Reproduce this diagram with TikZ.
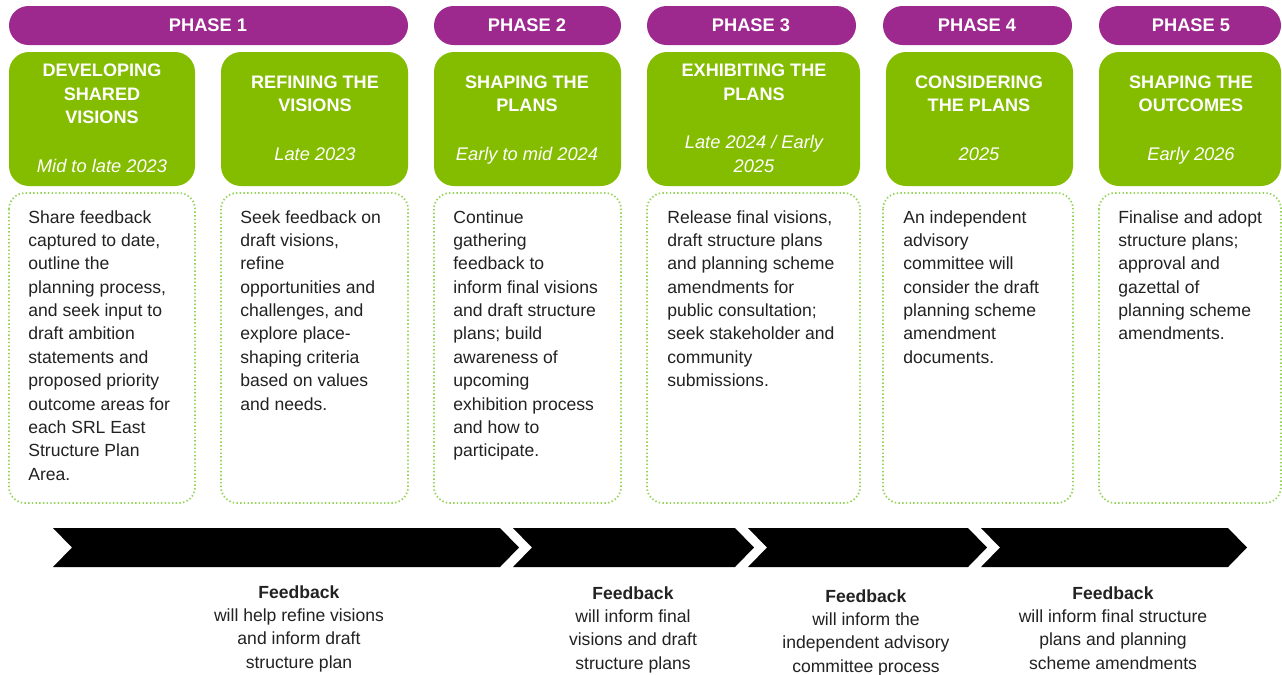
\documentclass[tikz,border=0pt]{standalone}
\usepackage{fontspec}
\setmainfont{Liberation Sans}
\usetikzlibrary{calc}
\definecolor{phasepurple}{RGB}{157,41,143}
\definecolor{stagegreen}{RGB}{132,189,0}
\definecolor{dotgreen}{RGB}{150,212,90}
\definecolor{bodygrey}{RGB}{34,34,34}
\def\chevron(#1:#2){\fill[black] (#1,528) -- (#2-19,528) -- (#2,547.5) -- (#2-19,567) -- (#1,567) -- (#1+19,547.5) -- cycle;}
\tikzset{
	pill/.style={fill=phasepurple, rounded corners=0.39cm},
	stage/.style={fill=stagegreen, rounded corners=0.4cm},
	dotbox/.style={draw=dotgreen, line width=1pt, dash pattern=on 0.8pt off 1.3pt, rounded corners=0.32cm},
	phasetxt/.style={text=white, inner sep=0pt, font=\fontsize{10.4}{12}\selectfont\bfseries},
	headtxt/.style={text=white, inner sep=0pt, anchor=north, align=center, font=\fontsize{10.3}{13.2}\selectfont\bfseries},
	datetxt/.style={text=white, inner sep=0pt, anchor=base, align=center, font=\fontsize{10.4}{13.2}\selectfont\itshape},
	bodytxt/.style={text=bodygrey, inner sep=0pt, anchor=north west, align=left, font=\fontsize{10}{13.3}\selectfont},
	fbtxt/.style={text=bodygrey, inner sep=0pt, anchor=north, align=center, font=\fontsize{10}{13.3}\selectfont}
}
\begin{document}
\begin{tikzpicture}[x=0.02cm, y=-0.02cm]
		%%%%% START %%%%%
		\clip (0, 0) rectangle (1282, 674);
		\fill[white] (0, 0) rectangle (1282, 674);
		
		% phase bars
		\fill[pill] (9, 6) rectangle (408, 45);
		\fill[pill] (434, 6) rectangle (621, 45);
		\fill[pill] (647, 6) rectangle (856, 45);
		\fill[pill] (883, 6) rectangle (1072, 45);
		\fill[pill] (1099, 6) rectangle (1281, 45);
		
		\node[phasetxt] (ph1) at (208, 25.5) {PHASE 1};
		\node[phasetxt] (ph2) at (527, 25.5) {PHASE 2};
		\node[phasetxt] (ph3) at (751, 25.5) {PHASE 3};
		\node[phasetxt] (ph4) at (977, 25.5) {PHASE 4};
		\node[phasetxt] (ph5) at (1191, 25.5) {PHASE 5};
		
		% stage boxes
		\fill[stage] (9, 52) rectangle (195, 186);
		\fill[stage] (221, 52) rectangle (408, 186);
		\fill[stage] (434, 52) rectangle (621, 186);
		\fill[stage] (647, 52) rectangle (860, 186);
		\fill[stage] (886, 52) rectangle (1073, 186);
		\fill[stage] (1099, 52) rectangle (1281, 186);
		
		\node[headtxt] (st1) at (102, 64) {DEVELOPING\\SHARED\\VISIONS};
		\node[datetxt] (dt1) at (102, 172) {Mid to late 2023};
		\node[headtxt] (st2) at (315, 75.5) {REFINING THE\\VISIONS};
		\node[datetxt] (dt2) at (315, 160) {Late 2023};
		\node[headtxt] (st3) at (527, 75.5) {SHAPING THE\\PLANS};
		\node[datetxt] (dt3) at (527, 160) {Early to mid 2024};
		\node[headtxt] (st4) at (754, 64) {EXHIBITING THE\\PLANS};
		\node[datetxt] (dt4) at (754, 172) {Late 2024 / Early\\2025};
		\node[headtxt] (st5) at (979, 75.5) {CONSIDERING\\THE PLANS};
		\node[datetxt] (dt5) at (979, 160) {2025};
		\node[headtxt] (st6) at (1191, 75.5) {SHAPING THE\\OUTCOMES};
		\node[datetxt] (dt6) at (1191, 160) {Early 2026};
		
		% activity boxes
		\draw[dotbox] (9, 193) rectangle (195, 503);
		\draw[dotbox] (221, 193) rectangle (408, 503);
		\draw[dotbox] (434, 193) rectangle (621, 503);
		\draw[dotbox] (647, 193) rectangle (860, 503);
		\draw[dotbox] (883, 193) rectangle (1073, 503);
		\draw[dotbox] (1099, 193) rectangle (1281, 503);
		
		\node[bodytxt] (ac1) at (28, 210) {Share feedback\\captured to date,\\outline the\\planning process,\\and seek input to\\draft ambition\\statements and\\proposed priority\\outcome areas for\\each SRL East\\Structure Plan\\Area.};
		\node[bodytxt] (ac2) at (240, 210) {Seek feedback on\\draft visions,\\refine\\opportunities and\\challenges, and\\explore place-\\shaping criteria\\based on values\\and needs.};
		\node[bodytxt] (ac3) at (453, 210) {Continue\\gathering\\feedback to\\inform final visions\\and draft structure\\plans; build\\awareness of\\upcoming\\exhibition process\\and how to\\participate.};
		\node[bodytxt] (ac4) at (667, 210) {Release final visions,\\draft structure plans\\and planning scheme\\amendments for\\public consultation;\\seek stakeholder and\\community\\submissions.};
		\node[bodytxt] (ac5) at (903, 210) {An independent\\advisory\\committee will\\consider the draft\\planning scheme\\amendment\\documents.};
		\node[bodytxt] (ac6) at (1118, 210) {Finalise and adopt\\structure plans;\\approval and\\gazettal of\\planning scheme\\amendments.};
		
		% timeline
		\chevron(53:519)
		\chevron(513:754)
		\chevron(748:987)
		\chevron(981:1247)
		
		\node[fbtxt] (fb1) at (299, 585) {\textbf{Feedback}\\will help refine visions\\and inform draft\\structure plan};
		\node[fbtxt] (fb2) at (633, 586) {\textbf{Feedback}\\will inform final\\visions and draft\\structure plans};
		\node[fbtxt] (fb3) at (866, 589) {\textbf{Feedback}\\will inform the\\independent advisory\\committee process};
		\node[fbtxt] (fb4) at (1113, 586) {\textbf{Feedback}\\will inform final structure\\plans and planning\\scheme amendments};
		
		%%%%% END %%%%%
	\end{tikzpicture}
\end{document}
